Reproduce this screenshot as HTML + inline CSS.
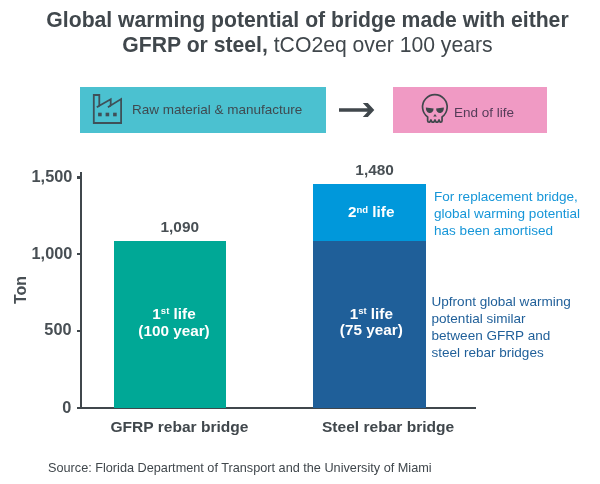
<!DOCTYPE html>
<html>
<head>
<meta charset="utf-8">
<title>Global warming potential of bridge</title>
<style>
html,body{margin:0;padding:0;background:#fff;}
body{width:600px;height:484px;position:relative;overflow:hidden;font-family:"Liberation Sans",Arial,sans-serif;color:#40474c;}
.abs{position:absolute;white-space:nowrap;}
.title{left:0;width:615px;text-align:center;font-size:21.18px;line-height:25.4px;top:6.5px;color:#40474c;}
.title b{font-weight:bold;}
.box{position:absolute;top:87.2px;height:45.5px;}
.lbl{font-size:13.5px;color:#3f4a50;}
.ax{font-weight:bold;font-size:16.3px;color:#484f54;text-align:right;width:60px;left:12.3px;line-height:16px;}
.val{font-weight:bold;font-size:15.4px;color:#484f54;text-align:center;line-height:16px;width:80px;}
.cat{font-weight:bold;font-size:15.55px;color:#40474c;text-align:left;}
.bar{position:absolute;}
.bt{font-weight:bold;font-size:15.3px;color:#fff;text-align:center;line-height:16.7px;width:112px;}
.bt sup{font-size:9.5px;vertical-align:baseline;position:relative;top:-4.6px;line-height:0;}
.note{font-size:13.55px;line-height:17.2px;}
</style>
</head>
<body>
<div class="abs title"><b>Global warming potential of bridge made with either</b><br><b>GFRP or steel,</b> tCO2eq over 100 years</div>

<div class="box" style="left:80px;width:246px;background:#4bc1d0;"></div>
<svg class="abs" style="left:90px;top:91px" width="36" height="36" viewBox="0 0 36 36">
  <path d="M3.8 32 V4 H9.3 V14.7 L20.7 8.2 V14.4 L31.1 8 V32 Z" fill="none" stroke="#3f5058" stroke-width="1.8" stroke-linejoin="miter"/>
  <path d="M9.3 14.7 L6.8 16.3 M20.7 14.4 L17.9 16.2" fill="none" stroke="#3f5058" stroke-width="1.8"/>
  <rect x="8.1" y="21.7" width="3.6" height="3.6" fill="#3f5058"/>
  <rect x="15.6" y="21.7" width="3.6" height="3.6" fill="#3f5058"/>
  <rect x="23.1" y="21.7" width="3.6" height="3.6" fill="#3f5058"/>
</svg>
<div class="abs lbl" style="left:132px;top:102px;line-height:16px;">Raw material &amp; manufacture</div>

<svg class="abs" style="left:336px;top:100px" width="42" height="20" viewBox="0 0 42 20">
  <path d="M3 8.3 H31.7 L26.8 3.1 H31.8 L38.3 10 L31.8 16.9 H26.8 L31.7 11.7 H3 Z" fill="#40474c"/>
</svg>

<div class="box" style="left:393px;width:154px;background:#f09ac4;"></div>
<svg class="abs" style="left:418px;top:91px" width="34" height="36" viewBox="0 0 34 36">
  <path d="M9.65 25.9 A12.3 12.3 0 1 1 24.05 25.9 V29.7 Q24.05 31.15 22.6 31.15 H22.1 L21 28.9 L19.9 31.15 H18.05 L16.95 28.9 L15.85 31.15 H14 L12.9 28.9 L11.8 31.15 H11.1 Q9.65 31.15 9.65 29.7 Z" fill="none" stroke="#40474c" stroke-width="1.7" stroke-linejoin="round"/>
  <path d="M7.9 16.4 L15.6 17.4 C15.6 20.3 13.9 21.9 11.8 21.9 C9.5 21.9 7.7 19.8 7.9 16.4 Z" fill="#40474c"/>
  <path d="M25.8 16.4 L18.1 17.4 C18.1 20.3 19.8 21.9 21.9 21.9 C24.2 21.9 26 19.8 25.8 16.4 Z" fill="#40474c"/>
  <path d="M17 23 L18.8 25.6 H15.2 Z" fill="#40474c"/>
</svg>
<div class="abs lbl" style="left:454px;top:105.2px;line-height:16px;color:#543c58;">End of life</div>

<!-- axes -->
<div class="bar" style="left:80px;top:171.8px;width:2.4px;height:237.4px;background:#40474c;"></div>
<div class="bar" style="left:77.2px;top:407.1px;width:399.2px;height:2.2px;background:#40474c;"></div>
<div class="bar" style="left:77.2px;top:176.4px;width:4px;height:2.2px;background:#40474c;"></div>
<div class="bar" style="left:77.2px;top:253px;width:4px;height:2.2px;background:#40474c;"></div>
<div class="bar" style="left:77.2px;top:329.8px;width:4px;height:2.2px;background:#40474c;"></div>

<div class="abs ax" style="top:168px;">1,500</div>
<div class="abs ax" style="top:244.9px;">1,000</div>
<div class="abs ax" style="top:321.3px;left:11.5px;">500</div>
<div class="abs ax" style="top:398.7px;left:11.3px;">0</div>
<div class="abs" style="left:-9.4px;top:280.2px;width:60px;height:20px;line-height:20px;text-align:center;font-weight:bold;font-size:16px;color:#484f54;transform:rotate(-90deg);">Ton</div>

<!-- bars -->
<div class="bar" style="left:114px;top:241px;width:112px;height:166.5px;background:#00a896;"></div>
<div class="bar" style="left:313.3px;top:183.6px;width:112.4px;height:58px;background:#0098db;"></div>
<div class="bar" style="left:313.3px;top:241px;width:112.4px;height:166.5px;background:#1f5f99;"></div>

<div class="abs val" style="left:139.8px;top:219.3px;">1,090</div>
<div class="abs val" style="left:334.6px;top:162.4px;">1,480</div>

<div class="abs bt" style="left:118px;top:306px;">1<sup>st</sup> life<br>(100 year)</div>
<div class="abs bt" style="left:315.3px;top:305.7px;">1<sup>st</sup> life<br>(75 year)</div>
<div class="abs bt" style="left:315.2px;top:204.3px;">2<sup>nd</sup> life</div>

<div class="abs cat" style="left:110.5px;top:418px;">GFRP rebar bridge</div>
<div class="abs cat" style="left:322px;top:418.2px;">Steel rebar bridge</div>

<div class="abs note" style="left:434px;top:187.8px;color:#1696d8;">For replacement bridge,<br>global warming potential<br>has been amortised</div>
<div class="abs note" style="left:431.5px;top:292.8px;color:#1f5f99;">Upfront global warming<br>potential similar<br>between GFRP and<br>steel rebar bridges</div>

<div class="abs" style="left:48px;top:460.5px;font-size:12.7px;color:#40474c;">Source: Florida Department of Transport and the University of Miami</div>
</body>
</html>
